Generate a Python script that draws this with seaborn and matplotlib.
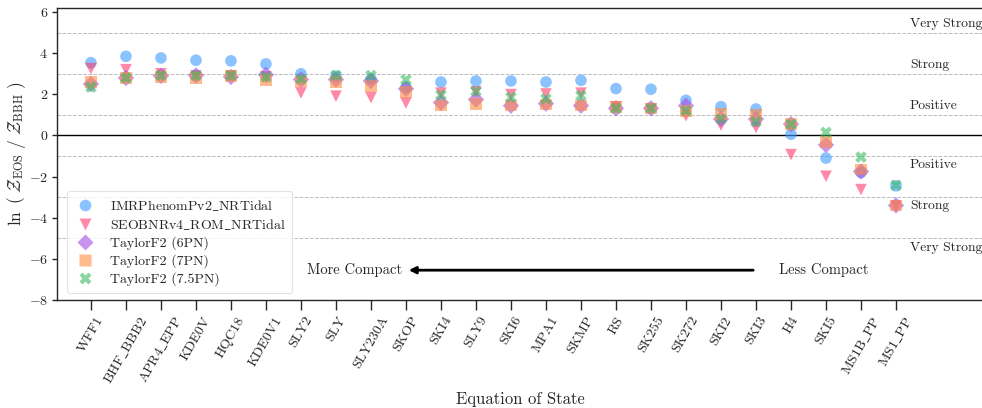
import numpy as np
import pandas as pd
import matplotlib
matplotlib.use("Agg")
import matplotlib.pyplot as plt
import seaborn as sns

EOS = ["WFF1", "BHF_BBB2", "APR4_EPP", "KDE0V", "HQC18", "KDE0V1", "SLY2", "SLY",
       "SLY230A", "SKOP", "SKI4", "SLY9", "SKI6", "MPA1", "SKMP", "RS", "SK255",
       "SK272", "SKI2", "SKI3", "H4", "SKI5", "MS1B_PP", "MS1_PP"]

imr_phenom = [3.54, 3.85, 3.77, 3.66, 3.63, 3.48, 3.00, 2.89, 2.75, 2.35, 2.60, 2.65,
              2.65, 2.60, 2.68, 2.28, 2.25, 1.71, 1.40, 1.29, 0.06, -1.10, -1.80, -2.45]
seobnr = [3.25, 3.20, 3.00, 2.90, 2.90, 2.85, 2.07, 1.91, 1.84, 1.58, 2.06, 2.12,
          1.99, 2.02, 2.06, 1.40, 1.30, 0.96, 0.50, 0.39, -0.93, -1.98, -2.63, -3.42]
tf2_6pn = [2.50, 2.80, 2.90, 2.92, 2.85, 2.95, 2.72, 2.72, 2.65, 2.27, 1.60, 1.75,
           1.45, 1.55, 1.45, 1.32, 1.32, 1.45, 0.80, 0.80, 0.55, -0.46, -1.75, -3.40]
tf2_7pn = [2.60, 2.80, 2.85, 2.80, 2.90, 2.70, 2.63, 2.60, 2.40, 2.10, 1.45, 1.53,
           1.45, 1.50, 1.45, 1.40, 1.32, 1.20, 1.04, 0.99, 0.55, -0.31, -1.65, -3.40]
tf2_75pn = [2.35, 2.80, 2.92, 2.92, 2.92, 2.85, 2.75, 2.92, 2.92, 2.71, 1.97, 2.15,
            1.86, 1.78, 1.94, 1.32, 1.32, 1.20, 0.80, 0.67, 0.55, 0.15, -1.05, -2.42]

SERIES = ["IMRPhenomPv2_NRTidal", "SEOBNRv4_ROM_NRTidal", "TaylorF2 (6PN)",
          "TaylorF2 (7PN)", "TaylorF2 (7.5PN)"]
COLORS = ["#3d9bff", "#ff3d6e", "#a54de6", "#ff8c42", "#3dba62"]
MARKERS = ["o", "v", "D", "s", "X"]

# evidence levels (Kass & Raftery) for the guide lines
LEVELS = [1, 3, 5]
LEVEL_NAMES = ["Positive", "Strong", "Very Strong"]


def tex_us(s):
    # cmr10 has no real underscore glyph, draw it through mathtext instead
    return s.replace("_", r"$\_$")


df = pd.DataFrame({"EOS": EOS, SERIES[0]: imr_phenom, SERIES[1]: seobnr,
                   SERIES[2]: tf2_6pn, SERIES[3]: tf2_7pn, SERIES[4]: tf2_75pn})
long = df.melt(id_vars="EOS", var_name="Waveform", value_name="lnZ")

sns.set_style("ticks")
plt.rcParams["font.family"] = "serif"
plt.rcParams["font.serif"] = ["cmr10", "DejaVu Serif"]
plt.rcParams["mathtext.fontset"] = "cm"
plt.rcParams["axes.formatter.use_mathtext"] = True
plt.rcParams["axes.unicode_minus"] = True

fig = plt.figure(figsize=(9.82, 4.08), dpi=100)
ax = fig.add_axes([57 / 982, 1 - 300 / 408, (983.5 - 57) / 982, 292 / 408])

for lv in LEVELS:
    ax.axhline(lv, color="#bbbbbb", ls="--", lw=0.7, zorder=0)
    ax.axhline(-lv, color="#bbbbbb", ls="--", lw=0.7, zorder=0)
ax.axhline(0, color="k", lw=1.0, zorder=0)

sns.scatterplot(data=long, x="EOS", y="lnZ", hue="Waveform", style="Waveform",
                hue_order=SERIES, style_order=SERIES, palette=COLORS,
                markers=MARKERS, s=70, alpha=0.6, edgecolor="none", ax=ax)

ax.set_xlim(-0.97, 25.5)
ax.set_ylim(-8, 6.2)
ax.set_yticks(np.arange(-8, 7, 2))
ax.set_xticks(range(len(EOS)))
ax.set_xticklabels([tex_us(e) for e in EOS])
ax.spines["right"].set_visible(False)
ax.tick_params(axis="x", length=7, width=1, labelsize=10, rotation=60)
ax.tick_params(axis="y", length=3.5, width=1, labelsize=10, pad=3)
for sp in ax.spines.values():
    sp.set_linewidth(1)

for lv, nm in zip(LEVELS, LEVEL_NAMES):
    ax.text(23.4, lv + 0.15, nm, fontsize=9.8, va="bottom", ha="left")
    ax.text(23.4, -lv - 0.15, nm, fontsize=9.8, va="top", ha="left")

ax.annotate("", xy=(9.0, -6.55), xytext=(19.0, -6.55),
            arrowprops=dict(arrowstyle="-|>", color="k", lw=2, mutation_scale=10))
ax.text(8.9, -6.55, "More Compact", ha="right", va="center", fontsize=10.5)
ax.text(19.65, -6.55, "Less Compact", ha="left", va="center", fontsize=10.5)

ax.set_xlabel("Equation of State", fontsize=12)
ax.set_ylabel(r"$\ln\ (\ \mathcal{Z}_{\rm EOS}\ /\ \mathcal{Z}_{\rm BBH}\ )$", fontsize=12.5)
ax.yaxis.set_label_coords(-0.031, 0.5)

handles, labels = ax.get_legend_handles_labels()
leg = ax.legend(handles, [tex_us(l) for l in labels], loc="lower left",
                bbox_to_anchor=(0.003, 0.0), fontsize=10, frameon=True,
                handletextpad=1.0, handlelength=1.6, borderpad=0.5, labelspacing=0.3)
leg.get_frame().set_edgecolor("#dddddd")
leg.get_frame().set_linewidth(0.8)
for h in leg.legend_handles:
    h.set_alpha(0.6)

fig.savefig("out.png", dpi=100)
